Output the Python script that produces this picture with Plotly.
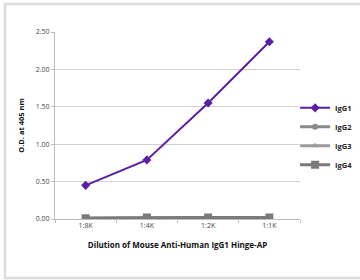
import plotly.graph_objects as go

categories = ["1:8K", "1:4K", "1:2K", "1:1K"]
igg1 = [0.45, 0.79, 1.55, 2.37]
igg2 = [0.01, 0.02, 0.02, 0.02]
igg3 = [0.01, 0.02, 0.02, 0.02]
igg4 = [0.01, 0.02, 0.02, 0.02]
y_ticks = [0, 0.5, 1.0, 1.5, 2.0, 2.5]
y_tick_labels = ["0.00", "0.50", "1.00", "1.50", "2.00", "2.50"]

L, R, T, B = 55, 60, 32, 61
W, H = 360, 280
pw, ph = W - L - R, H - T - B

fig = go.Figure()
fig.add_trace(go.Scatter(x=categories, y=igg1, name="<b>IgG1</b>", mode="lines+markers",
                         line=dict(color="#5a1fa6", width=2),
                         marker=dict(symbol="diamond", size=7, color="#5a1fa6")))
fig.add_trace(go.Scatter(x=categories, y=igg2, name="<b>IgG2</b>", mode="lines+markers",
                         line=dict(color="#8a8a8a", width=3),
                         marker=dict(symbol="circle", size=6, color="#8a8a8a")))
fig.add_trace(go.Scatter(x=categories, y=igg3, name="<b>IgG3</b>", mode="lines+markers",
                         line=dict(color="#9a9a9a", width=3),
                         marker=dict(symbol="triangle-up", size=6, color="#9a9a9a")))
fig.add_trace(go.Scatter(x=categories, y=igg4, name="<b>IgG4</b>", mode="lines+markers",
                         line=dict(color="#7a7a7a", width=3),
                         marker=dict(symbol="square", size=8, color="#7a7a7a")))

# outer frame
fig.add_shape(type="rect", xref="paper", yref="paper",
              x0=(5 - L) / pw, x1=(370 - L) / pw,
              y0=(H - B - 278) / ph, y1=(H - B - 4) / ph,
              line=dict(color="#dcdcdc", width=2.5), layer="below")

fig.update_layout(
    width=W, height=H,
    margin=dict(l=L, r=R, t=T, b=B, autoexpand=False),
    paper_bgcolor="white", plot_bgcolor="white",
    font=dict(family="Open Sans, Liberation Sans, sans-serif", color="#333", size=7),
    showlegend=True,
    legend=dict(x=0.98, y=0.672, xanchor="left", yanchor="top",
                traceorder="normal", font=dict(size=7.5, color="#222"),
                itemwidth=30, tracegroupgap=0, bgcolor="rgba(0,0,0,0)"),
    xaxis=dict(type="category", categoryorder="array", categoryarray=categories,
               automargin=False,
               showgrid=False, showline=True, linecolor="#bdbdbd", linewidth=1,
               ticks="outside", ticklen=3, tickcolor="#bdbdbd",
               tickson="boundaries", tickfont=dict(size=7, color="#444"),
               title=dict(text="<b>Dilution of Mouse Anti-Human IgG1 Hinge-AP</b>",
                          font=dict(size=8, color="#111"), standoff=12),
               range=[-0.5, 3.5]),
    yaxis=dict(range=[0, 2.5], tickvals=y_ticks, ticktext=y_tick_labels,
               automargin=False,
               showgrid=True, gridcolor="#d0d0d0", gridwidth=1,
               showline=True, linecolor="#bdbdbd", linewidth=1,
               ticks="outside", ticklen=3, tickcolor="#bdbdbd",
               tickfont=dict(size=7, color="#444"), zeroline=False,
               title=dict(text="<b>O.D. at 405 nm</b>", font=dict(size=7.5, color="#111"),
                          standoff=10)),
)

fig.write_html("out.html", config={"displayModeBar": False},
               post_script="document.body.style.margin='0';")
